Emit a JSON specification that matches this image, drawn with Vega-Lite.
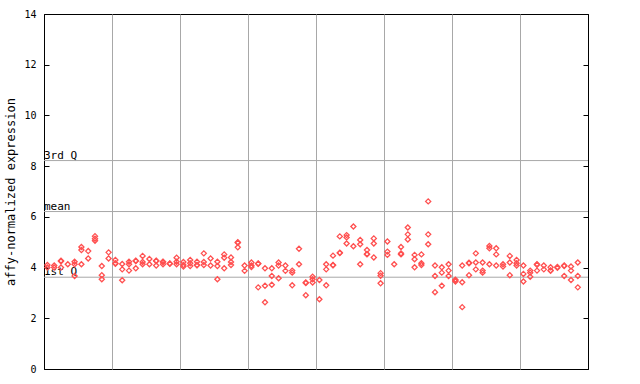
{
  "$schema": "https://vega.github.io/schema/vega-lite/v6.json",
  "width": 544,
  "height": 355,
  "autosize": "none",
  "padding": {"left": 44, "top": 14, "right": 52, "bottom": 15},
  "background": "white",
  "config": {
    "view": {"stroke": "#000000", "strokeWidth": 1},
    "font": "DejaVu Sans Mono"
  },
  "datasets": {
    "pts": [
      {"i":0.5,"v":4.1},{"i":0.5,"v":4.0},
      {"i":1.5,"v":4.08},{"i":1.5,"v":4.0},
      {"i":2.5,"v":4.27},{"i":2.5,"v":4.25},{"i":2.5,"v":4.0},
      {"i":3.5,"v":4.13},
      {"i":4.5,"v":4.23},{"i":4.5,"v":4.13},{"i":4.5,"v":3.67},
      {"i":5.5,"v":4.81},{"i":5.5,"v":4.69},{"i":5.5,"v":4.13},
      {"i":6.5,"v":4.65},{"i":6.5,"v":4.36},
      {"i":7.5,"v":5.24},{"i":7.5,"v":5.14},{"i":7.5,"v":5.06},
      {"i":8.5,"v":4.06},{"i":8.5,"v":3.7},{"i":8.5,"v":3.54},
      {"i":9.5,"v":4.6},{"i":9.5,"v":4.36},
      {"i":10.5,"v":4.3},{"i":10.5,"v":4.17},{"i":10.5,"v":4.15},
      {"i":11.5,"v":4.14},{"i":11.5,"v":3.93},{"i":11.5,"v":3.5},
      {"i":12.5,"v":4.23},{"i":12.5,"v":4.13},{"i":12.5,"v":3.88},
      {"i":13.5,"v":4.27},{"i":13.5,"v":4.26},{"i":13.5,"v":3.97},
      {"i":14.5,"v":4.46},{"i":14.5,"v":4.22},{"i":14.5,"v":4.13},
      {"i":15.5,"v":4.34},{"i":15.5,"v":4.13},
      {"i":16.5,"v":4.27},{"i":16.5,"v":4.26},{"i":16.5,"v":4.08},
      {"i":17.5,"v":4.23},{"i":17.5,"v":4.22},{"i":17.5,"v":4.13},
      {"i":18.5,"v":4.16},{"i":18.5,"v":4.15},
      {"i":19.5,"v":4.39},{"i":19.5,"v":4.23},{"i":19.5,"v":4.13},
      {"i":20.5,"v":4.22},{"i":20.5,"v":4.1},{"i":20.5,"v":4.04},
      {"i":21.5,"v":4.3},{"i":21.5,"v":4.17},{"i":21.5,"v":4.06},
      {"i":22.5,"v":4.23},{"i":22.5,"v":4.1},{"i":22.5,"v":4.09},
      {"i":23.5,"v":4.56},{"i":23.5,"v":4.22},{"i":23.5,"v":4.1},
      {"i":24.5,"v":4.36},{"i":24.5,"v":4.08},
      {"i":25.5,"v":4.23},{"i":25.5,"v":4.06},{"i":25.5,"v":3.54},
      {"i":26.5,"v":4.52},{"i":26.5,"v":4.39},{"i":26.5,"v":3.97},
      {"i":27.5,"v":4.4},{"i":27.5,"v":4.22},{"i":27.5,"v":4.1},
      {"i":28.5,"v":5.0},{"i":28.5,"v":4.98},{"i":28.5,"v":4.8},
      {"i":29.5,"v":4.08},{"i":29.5,"v":3.87},
      {"i":30.5,"v":4.2},{"i":30.5,"v":4.08},{"i":30.5,"v":4.02},
      {"i":31.5,"v":4.16},{"i":31.5,"v":4.15},{"i":31.5,"v":3.22},
      {"i":32.5,"v":3.97},{"i":32.5,"v":3.28},{"i":32.5,"v":2.63},
      {"i":33.5,"v":3.97},{"i":33.5,"v":3.67},{"i":33.5,"v":3.32},
      {"i":34.5,"v":4.2},{"i":34.5,"v":4.08},{"i":34.5,"v":3.58},
      {"i":35.5,"v":4.08},{"i":35.5,"v":3.87},
      {"i":36.5,"v":3.88},{"i":36.5,"v":3.8},{"i":36.5,"v":3.3},
      {"i":37.5,"v":4.74},{"i":37.5,"v":4.13},
      {"i":38.5,"v":3.41},{"i":38.5,"v":3.39},{"i":38.5,"v":2.91},
      {"i":39.5,"v":3.64},{"i":39.5,"v":3.54},{"i":39.5,"v":3.41},
      {"i":40.5,"v":3.51},{"i":40.5,"v":2.75},
      {"i":41.5,"v":4.13},{"i":41.5,"v":3.93},{"i":41.5,"v":3.3},
      {"i":42.5,"v":4.47},{"i":42.5,"v":4.1},{"i":42.5,"v":4.09},
      {"i":43.5,"v":5.23},{"i":43.5,"v":4.59},{"i":43.5,"v":4.57},
      {"i":44.5,"v":5.28},{"i":44.5,"v":5.19},{"i":44.5,"v":4.95},
      {"i":45.5,"v":5.62},{"i":45.5,"v":4.84},
      {"i":46.5,"v":5.09},{"i":46.5,"v":4.92},{"i":46.5,"v":4.13},
      {"i":47.5,"v":4.69},{"i":47.5,"v":4.54},{"i":47.5,"v":4.52},
      {"i":48.5,"v":5.15},{"i":48.5,"v":4.95},{"i":48.5,"v":4.4},
      {"i":49.5,"v":3.78},{"i":49.5,"v":3.68},{"i":49.5,"v":3.38},
      {"i":50.5,"v":5.03},{"i":50.5,"v":4.63},{"i":50.5,"v":4.5},
      {"i":51.5,"v":4.13},
      {"i":52.5,"v":4.81},{"i":52.5,"v":4.56},{"i":52.5,"v":4.52},
      {"i":53.5,"v":5.58},{"i":53.5,"v":5.31},{"i":53.5,"v":5.11},
      {"i":54.5,"v":4.5},{"i":54.5,"v":4.33},{"i":54.5,"v":4.01},
      {"i":55.5,"v":4.52},{"i":55.5,"v":4.17},{"i":55.5,"v":4.1},
      {"i":56.5,"v":6.61},{"i":56.5,"v":5.31},{"i":56.5,"v":4.92},
      {"i":57.5,"v":4.08},{"i":57.5,"v":3.67},{"i":57.5,"v":3.03},
      {"i":58.5,"v":4.01},{"i":58.5,"v":3.8},{"i":58.5,"v":3.28},
      {"i":59.5,"v":4.13},{"i":59.5,"v":3.88},{"i":59.5,"v":3.67},
      {"i":60.5,"v":3.52},{"i":60.5,"v":3.49},{"i":60.5,"v":3.45},
      {"i":61.5,"v":4.08},{"i":61.5,"v":3.42},{"i":61.5,"v":2.44},
      {"i":62.5,"v":4.19},{"i":62.5,"v":4.17},{"i":62.5,"v":3.7},
      {"i":63.5,"v":4.56},{"i":63.5,"v":4.2},{"i":63.5,"v":3.93},
      {"i":64.5,"v":4.2},{"i":64.5,"v":3.88},{"i":64.5,"v":3.8},
      {"i":65.5,"v":4.85},{"i":65.5,"v":4.76},{"i":65.5,"v":4.13},
      {"i":66.5,"v":4.76},{"i":66.5,"v":4.52},{"i":66.5,"v":4.08},
      {"i":67.5,"v":4.13},{"i":67.5,"v":4.04},
      {"i":68.5,"v":4.46},{"i":68.5,"v":4.2},{"i":68.5,"v":3.7},
      {"i":69.5,"v":4.3},{"i":69.5,"v":4.17},{"i":69.5,"v":4.08},
      {"i":70.5,"v":4.08},{"i":70.5,"v":3.75},{"i":70.5,"v":3.45},
      {"i":71.5,"v":3.88},{"i":71.5,"v":3.8},{"i":71.5,"v":3.64},
      {"i":72.5,"v":4.13},{"i":72.5,"v":4.11},{"i":72.5,"v":3.88},
      {"i":73.5,"v":4.08},{"i":73.5,"v":3.93},
      {"i":74.5,"v":4.01},{"i":74.5,"v":3.89},{"i":74.5,"v":3.87},
      {"i":75.5,"v":4.02},{"i":75.5,"v":3.99},
      {"i":76.5,"v":4.08},{"i":76.5,"v":4.06},{"i":76.5,"v":3.67},
      {"i":77.5,"v":4.04},{"i":77.5,"v":3.88},{"i":77.5,"v":3.51},
      {"i":78.5,"v":4.2},{"i":78.5,"v":3.67},{"i":78.5,"v":3.22}
    ],
    "stats": [
      {"label": "3rd Q", "v": 8.22, "x0": 0},
      {"label": "mean", "v": 6.21, "x0": 0},
      {"label": "1st Q", "v": 3.62, "x0": 0}
    ]
  },
  "resolve": {"axis": {"y": "independent"}},
  "layer": [
    {
      "data": {"name": "stats"},
      "mark": {"type": "rule", "color": "#a8a8a8", "strokeWidth": 1},
      "encoding": {
        "y": {
          "field": "v", "type": "quantitative",
          "scale": {"domain": [0, 14], "nice": false},
          "axis": {
            "values": [0, 2, 4, 6, 8, 10, 12, 14],
            "title": "affy-normalized expression",
            "titleFont": "DejaVu Sans Mono",
            "titleFontSize": 12,
            "titleFontWeight": "normal",
            "titleColor": "#000000",
            "titlePadding": 6,
            "labelFont": "DejaVu Sans Mono",
            "labelFontSize": 10,
            "labelColor": "#000000",
            "labelPadding": 13,
            "tickSize": -5,
            "tickColor": "#000000",
            "domainColor": "#000000",
            "grid": false
          }
        }
      }
    },
    {
      "data": {"name": "stats"},
      "mark": {"type": "text", "align": "left", "baseline": "bottom", "fontSize": 11, "font": "DejaVu Sans Mono", "color": "#000000", "dy": 0},
      "encoding": {
        "x": {"field": "x0", "type": "quantitative", "scale": {"domain": [0, 80], "nice": false}},
        "y": {"field": "v", "type": "quantitative", "axis": {
            "orient": "right", "values": [0, 2, 4, 6, 8, 10, 12, 14],
            "labels": false, "title": null, "tickSize": -5,
            "tickColor": "#000000", "domainColor": "#000000", "grid": false}},
        "text": {"field": "label"}
      }
    },
    {
      "data": {"name": "pts"},
      "mark": {"type": "point", "shape": "diamond", "filled": false, "size": 26, "stroke": "#ff5050", "strokeWidth": 1.3, "opacity": 1},
      "encoding": {
        "x": {
          "field": "i", "type": "quantitative",
          "scale": {"domain": [0, 80], "nice": false},
          "axis": {
            "values": [10, 20, 30, 40, 50, 60, 70],
            "grid": true, "gridColor": "#a8a8a8", "gridOpacity": 1,
            "labels": false, "ticks": false, "domain": false, "title": null
          }
        },
        "y": {"field": "v", "type": "quantitative", "axis": null}
      }
    }
  ]
}
